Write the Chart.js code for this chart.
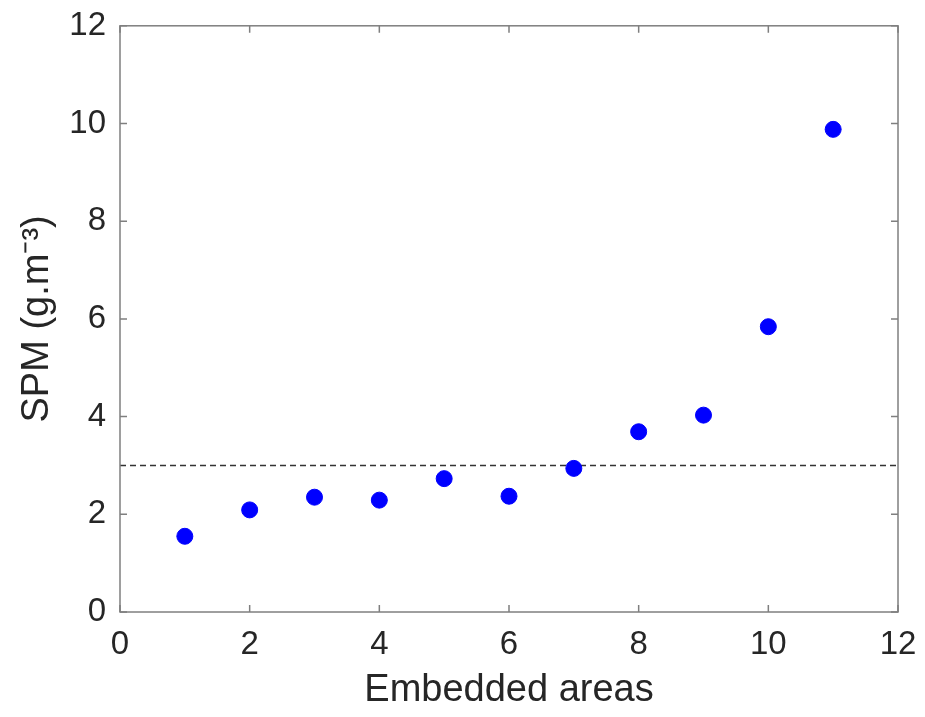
<!DOCTYPE html>
<html>
<head>
<meta charset="utf-8">
<script src="https://cdn.jsdelivr.net/npm/chart.js@4.4.1/dist/chart.umd.min.js"></script>
<style>
  html, body { margin: 0; padding: 0; background: #fff; }
  #wrap { width: 925px; height: 717px; }
</style>
</head>
<body>
<div id="wrap"><canvas id="spmChart" width="925" height="717"></canvas></div>
<script>
// data
const areas = [1, 2, 3, 4, 5, 6, 7, 8, 9, 10, 11];
const spmValues = [1.55, 2.09, 2.35, 2.29, 2.73, 2.37, 2.94, 3.69, 4.03, 5.84, 9.88];
const thresholdX = [0, 12];
const thresholdY = [3, 3];
const xTicks = [0, 2, 4, 6, 8, 10, 12];
const yTicks = [0, 2, 4, 6, 8, 10, 12];

const axisColor = '#7f7f7f';
const textColor = '#262626';
const fontFamily = '"Liberation Sans", Arial, Helvetica, sans-serif';

// box around the plot with ticks pointing inwards on all four sides
const boxTicks = {
    id: 'boxTicks',
    afterDatasetsDraw(chart) {
        const { ctx, chartArea: a, scales } = chart;
        const len = 7;
        ctx.save();
        ctx.strokeStyle = axisColor;
        ctx.lineWidth = 1.5;
        ctx.strokeRect(a.left, a.top, a.right - a.left, a.bottom - a.top);
        ctx.beginPath();
        xTicks.forEach(v => {
            const px = scales.x.getPixelForValue(v);
            ctx.moveTo(px, a.bottom); ctx.lineTo(px, a.bottom - len);
            ctx.moveTo(px, a.top); ctx.lineTo(px, a.top + len);
        });
        yTicks.forEach(v => {
            const py = scales.y.getPixelForValue(v);
            ctx.moveTo(a.left, py); ctx.lineTo(a.left + len, py);
            ctx.moveTo(a.right, py); ctx.lineTo(a.right - len, py);
        });
        ctx.stroke();
        ctx.restore();
    }
};

new Chart(document.getElementById('spmChart').getContext('2d'), {
    type: 'scatter',
    data: {
        datasets: [
            {
                label: 'SPM',
                data: areas.map((x, i) => ({ x: x, y: spmValues[i] })),
                backgroundColor: '#0000ff',
                borderColor: '#0000ff',
                pointRadius: 8,
                pointHoverRadius: 8,
                order: 1
            },
            {
                label: 'threshold',
                type: 'line',
                data: thresholdX.map((x, i) => ({ x: x, y: thresholdY[i] })),
                borderColor: '#333333',
                borderWidth: 1.5,
                borderDash: [6, 4],
                pointRadius: 0,
                fill: false,
                order: 2
            }
        ]
    },
    options: {
        responsive: false,
        animation: false,
        layout: { padding: { top: 24, right: 27, left: 0, bottom: 0 } },
        plugins: {
            legend: { display: false },
            tooltip: { enabled: false }
        },
        scales: {
            x: {
                type: 'linear',
                min: 0,
                max: 12,
                afterFit: s => { s.height = 105; },
                afterBuildTicks: s => { s.ticks = xTicks.map(v => ({ value: v })); },
                grid: { display: false },
                border: { display: false },
                ticks: {
                    color: textColor,
                    padding: 5,
                    font: { family: fontFamily, size: 33 }
                },
                title: {
                    display: true,
                    text: 'Embedded areas',
                    color: textColor,
                    padding: { top: 0, bottom: 4 },
                    font: { family: fontFamily, size: 38 }
                }
            },
            y: {
                type: 'linear',
                min: 0,
                max: 12,
                afterFit: s => { s.width = 120; },
                afterBuildTicks: s => { s.ticks = yTicks.map(v => ({ value: v })); },
                grid: { display: false },
                border: { display: false },
                ticks: {
                    color: textColor,
                    padding: 6,
                    font: { family: fontFamily, size: 33 }
                },
                title: {
                    display: true,
                    text: 'SPM (g.m⁻³)',
                    color: textColor,
                    padding: { top: 15, bottom: 0 },
                    font: { family: fontFamily, size: 38 }
                }
            }
        }
    },
    plugins: [boxTicks]
});
</script>
</body>
</html>
